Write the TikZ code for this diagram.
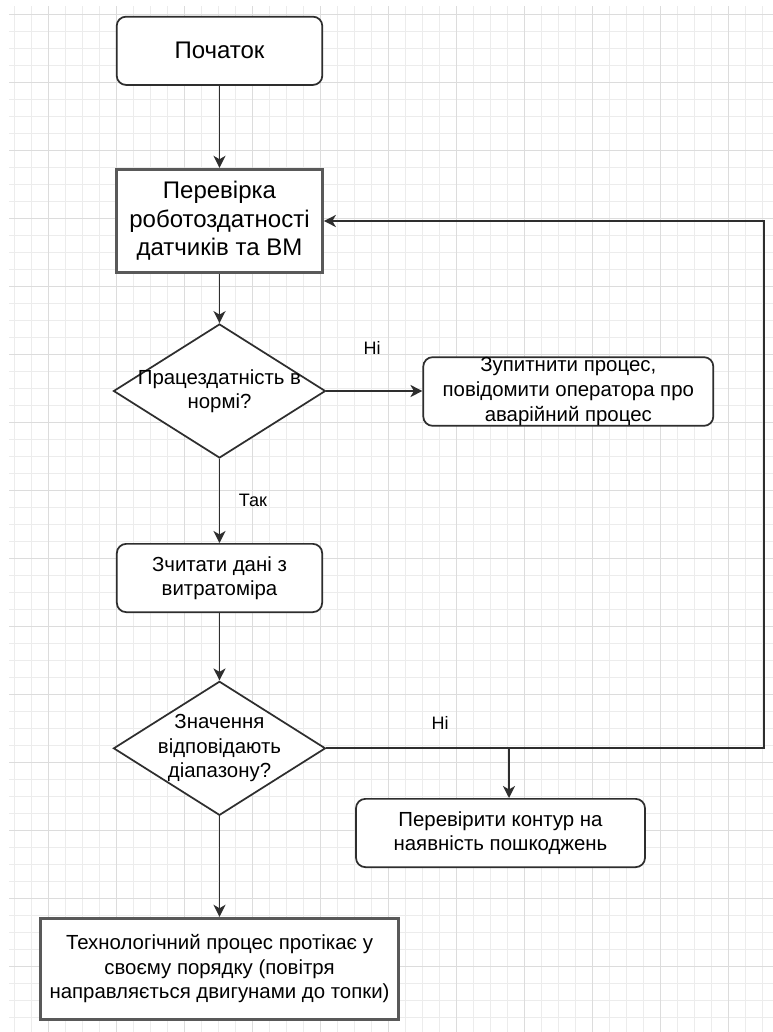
\documentclass[tikz,border=0pt]{standalone}
\usepackage{fontspec}
\setmainfont{Liberation Sans}
\usetikzlibrary{arrows.meta,shapes.geometric}

\definecolor{edgecol}{HTML}{2E2E2E}
\definecolor{thickcol}{HTML}{595959}
\definecolor{gridminor}{HTML}{ECECEC}
\definecolor{gridmajor}{HTML}{DCDCDC}

\newcommand\fbig{\fontsize{18}{21.5}\selectfont}
\newcommand\fnorm{\fontsize{15.3}{18.4}\selectfont}
\newcommand\flbl{\fontsize{13.5}{16}\selectfont}

\begin{document}
\begin{tikzpicture}[x=0.75pt,y=-0.75pt,
  >={Stealth[length=9pt,width=9pt,inset=2.6pt]},
  roundbox/.style={draw=edgecol, line width=1.3pt, fill=white,
    rounded corners=7pt, inner sep=0pt, align=center, font=\fnorm},
  thickbox/.style={draw=thickcol, line width=2.3pt, fill=white,
    inner sep=0pt, align=center, font=\fnorm},
  decision/.style={diamond, draw=edgecol, line width=1.3pt, fill=white,
    inner sep=0pt, minimum width=159pt, minimum height=100.5pt},
  txt/.style={align=center, inner sep=0pt, font=\fnorm},
  lbl/.style={inner sep=0pt, font=\flbl},
  edge/.style={draw=edgecol, line width=1.45pt, ->},
  gmin/.style={draw=gridminor, line width=0.75pt},
  gmaj/.style={draw=gridmajor, line width=0.8pt}]

% page and background
\useasboundingbox (0,0) rectangle (773,1032);
\fill[white] (0,0) rectangle (773,1032);

% paper grid: minor every 17, major every 68
\begin{scope}
  \clip (9,6) rectangle (773,1032);
  \foreach \k in {0,...,44}
    \draw[gmin] ({14.7+17*\k},6) -- ({14.7+17*\k},1032);
  \foreach \k in {0,...,59}
    \draw[gmin] (9,{14.7+17*\k}) -- (773,{14.7+17*\k});
  \foreach \k in {0,...,10}
    \draw[gmaj] ({48.7+68*\k},6) -- ({48.7+68*\k},1032);
  \foreach \k in {0,...,14}
    \draw[gmaj] (9,{14.7+68*\k}) -- (773,{14.7+68*\k});
\end{scope}

% flowchart blocks
\node[roundbox, font=\fbig, minimum width=154.2pt, minimum height=51.2pt]
  (start) at (219.5,50.8) {Початок};
\node[thickbox, font=\fbig, minimum width=154.2pt, minimum height=77.5pt]
  (check) at (219.5,221) {Перевірка\\роботоздатності\\датчиків та ВМ};
\node[decision] (ok) at (219.5,391) {};
\node[txt] (oktext) at (ok.center) {Працездатність в\\нормі?};
\node[roundbox, minimum width=217.5pt, minimum height=51.5pt]
  (stop) at (568.3,391.5) {Зупитнити процес,\\повідомити оператора про\\аварійний процес};
\node[roundbox, minimum width=154pt, minimum height=51.2pt]
  (read) at (219.5,578) {Зчитати дані з\\витратоміра};
\node[decision] (range) at (219.5,748.3) {};
\node[txt] (rangetext) at (range.center) {Значення\\відповідають\\діапазону?};
\node[roundbox, minimum width=216.75pt, minimum height=51.2pt]
  (leak) at (500.5,833) {Перевірити контур на\\наявність пошкоджень};
\node[thickbox, minimum width=268.2pt, minimum height=75.75pt]
  (run) at (219.5,968.8) {Технологічний процес протікає у\\своєму порядку (повітря\\направляється двигунами до топки)};

% connectors
\draw[edge] (start) -- (check);
\draw[edge] (check) -- (ok);
\draw[edge] (ok.east) -- (ok.east -| stop.west);
\draw[edge] (ok) -- (read);
\draw[edge] (read) -- (range);
\draw[edge] (range) -- (run);
\coordinate (loop) at (764,748.3);
\coordinate (split) at (509,748.3);
\draw[edge] (range.east) -- (loop) |- (check.east);
\draw[edge] (split) -- (split |- leak.north);

% branch labels
\node[lbl] (no1) at (372,348) {Ні};
\node[lbl] (yes) at (253,500) {Так};
\node[lbl] (no2) at (440,722.7) {Ні};
\end{tikzpicture}
\end{document}
